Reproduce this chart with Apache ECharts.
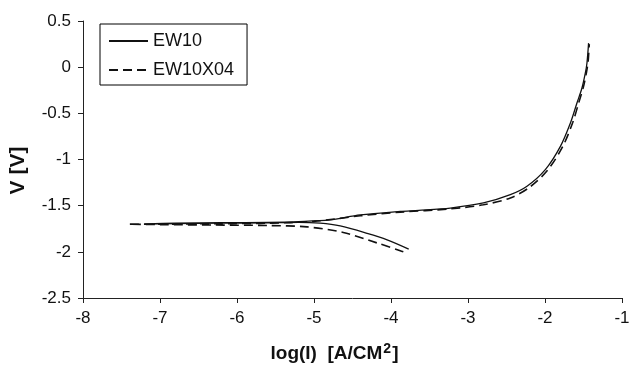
<!DOCTYPE html>
<html>
<head>
<meta charset="utf-8">
<script src="https://cdn.jsdelivr.net/npm/echarts@6/dist/echarts.min.js"></script>
<style>
  html, body { margin: 0; padding: 0; background: #fff; }
  #chart { width: 629px; height: 366px; }
</style>
</head>
<body>
<div id="chart"></div>
<script>
// Polarisation curves: log(current density) vs potential.
// Each curve is traced in scan order: cathodic end -> corrosion potential -> anodic branch.
const seriesNames = ['EW10', 'EW10X04'];

const ew10LogI = [-3.77, -4.05, -4.31, -4.66, -4.92, -5.2, -5.6, -6.2, -6.8, -7.2,
                  -6.8, -6.2, -5.6, -5.2, -4.8, -4.4, -3.88, -3.64, -3.23, -2.8, -2.45,
                  -2.234, -1.996, -1.80, -1.67, -1.585, -1.52, -1.476, -1.455, -1.434];
const ew10V    = [-1.97, -1.87, -1.80, -1.72, -1.69, -1.68, -1.685, -1.69, -1.695, -1.70,
                  -1.69, -1.685, -1.68, -1.672, -1.655, -1.60, -1.562, -1.551, -1.526, -1.471, -1.381,
                  -1.29, -1.11, -0.858, -0.605, -0.388, -0.226, -0.063, 0.045, 0.26];

const ew10x04LogI = [-3.84, -3.88, -4.18, -4.62, -5.09, -5.6, -6.3, -7.0, -7.41,
                     -7.0, -6.3, -5.6, -5.0, -4.4, -3.88, -3.23, -2.8, -2.45,
                     -2.2, -1.97, -1.77, -1.64, -1.56, -1.50, -1.46, -1.44, -1.425];
const ew10x04V    = [-2.00, -1.988, -1.904, -1.79, -1.73, -1.715, -1.71, -1.705, -1.70,
                     -1.70, -1.695, -1.69, -1.67, -1.61, -1.57, -1.535, -1.49, -1.417,
                     -1.30, -1.12, -0.86, -0.60, -0.38, -0.21, -0.05, 0.06, 0.25];

const xTicks = { min: -8, max: -1, step: 1 };
const yTicks = { min: -2.5, max: 0.5, step: 0.5 };

const pairs = (xs, ys) => xs.map((x, i) => [x, ys[i]]);

const font = 'Liberation Sans, Arial, sans-serif';
const ink = '#111';
const chart = echarts.init(document.getElementById('chart'));
chart.setOption({
  animation: false,
  backgroundColor: '#fff',
  grid: { left: 83, right: 7, top: 21, bottom: 68, containLabel: false, outerBoundsMode: 'none' },
  legend: {
    orient: 'vertical',
    left: 100, top: 24,
    padding: [8, 13, 6, 8],
    itemGap: 11,
    itemWidth: 39, itemHeight: 14,
    itemStyle: { opacity: 0 },
    borderColor: '#000', borderWidth: 1,
    textStyle: { fontFamily: font, fontSize: 18, color: ink },
    data: seriesNames
  },
  xAxis: {
    type: 'value',
    min: xTicks.min, max: xTicks.max, interval: xTicks.step,
    axisLine: { onZero: false, lineStyle: { color: '#222', width: 1 } },
    axisTick: { show: true, length: 5, lineStyle: { color: '#222' } },
    axisLabel: { fontFamily: font, fontSize: 17, color: ink, margin: 12 },
    splitLine: { show: false },
    name: '{a|log(I)  [A/CM}{s|2}{a|]}',
    nameLocation: 'middle', nameGap: 44,
    nameTextStyle: {
      padding: [0, 36, 0, 0],
      rich: {
        a: { fontFamily: font, fontSize: 19, fontWeight: 'bold', color: ink },
        s: { fontFamily: font, fontSize: 14, fontWeight: 'bold', color: ink, verticalAlign: 'top', padding: [0, 1, 9, 1] }
      }
    }
  },
  yAxis: {
    type: 'value',
    min: yTicks.min, max: yTicks.max, interval: yTicks.step,
    axisLine: { show: true, onZero: false, lineStyle: { color: '#222', width: 1 } },
    axisTick: { show: true, length: 5, lineStyle: { color: '#222' } },
    axisLabel: { fontFamily: font, fontSize: 17, color: ink, margin: 12 },
    splitLine: { show: false },
    name: 'V [V]',
    nameLocation: 'middle', nameGap: 54, nameRotate: 90,
    nameTextStyle: { fontFamily: font, fontSize: 21, fontWeight: 'bold', color: ink, padding: [0, 22, 0, 0] }
  },
  series: [
    {
      name: seriesNames[0], type: 'line', symbol: 'none', smooth: 0.3,
      lineStyle: { color: ink, width: 1.3, type: 'solid' },
      itemStyle: { color: ink },
      data: pairs(ew10LogI, ew10V)
    },
    {
      name: seriesNames[1], type: 'line', symbol: 'none', smooth: 0.3,
      lineStyle: { color: ink, width: 1.6, type: [9, 5] },
      itemStyle: { color: ink },
      data: pairs(ew10x04LogI, ew10x04V)
    }
  ]
});
</script>
</body>
</html>
